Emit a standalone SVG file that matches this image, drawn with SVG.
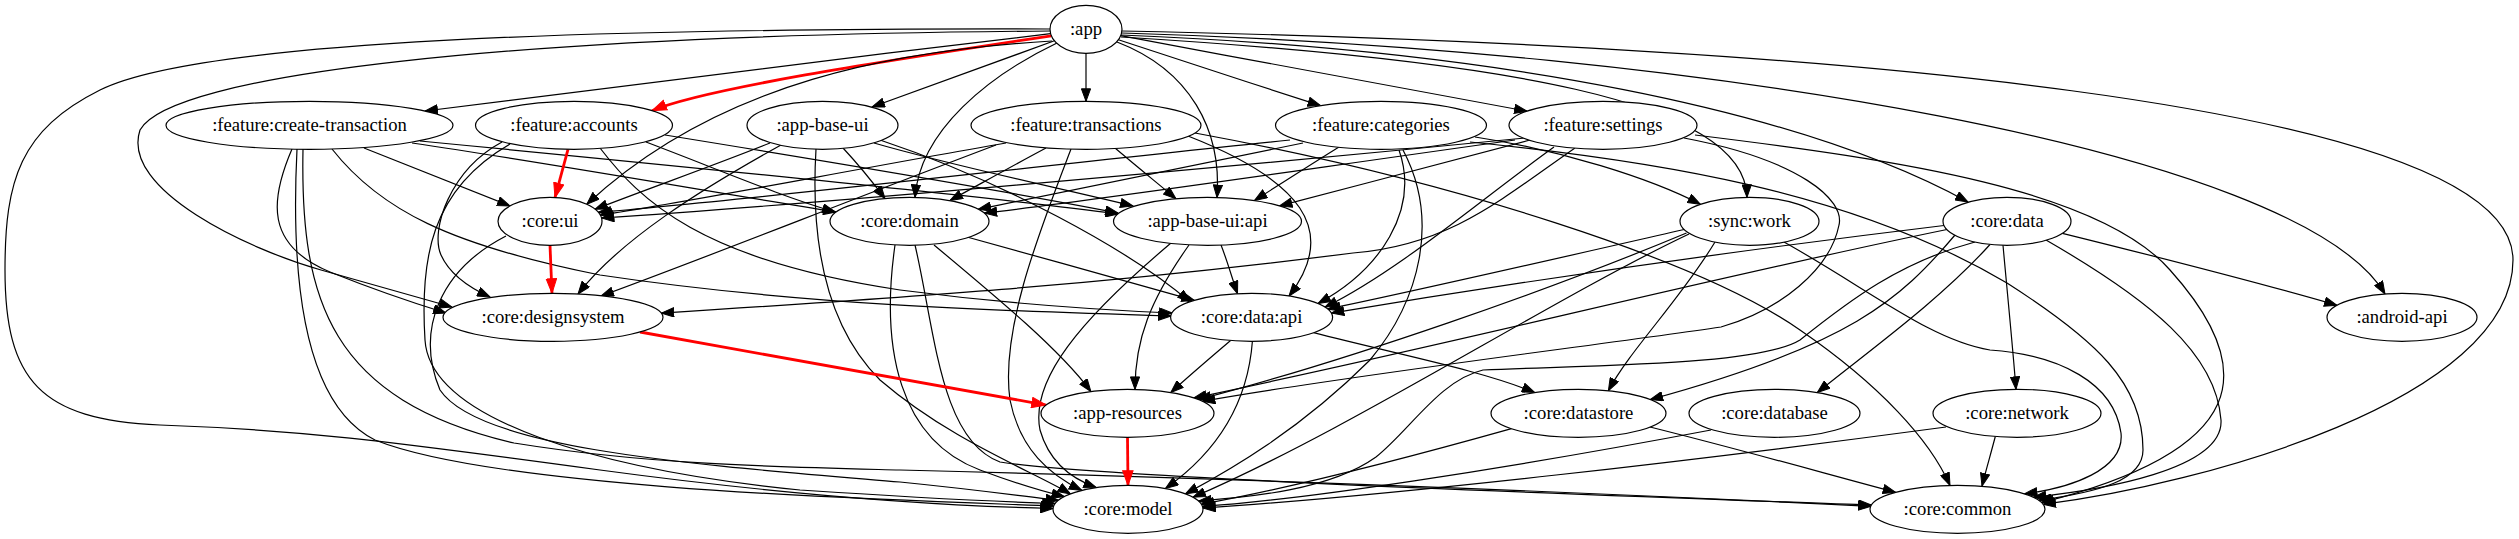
<svg xmlns="http://www.w3.org/2000/svg" width="2519" height="539" viewBox="0 0 2519 539">
<style>
.e{fill:none;stroke:#000;stroke-width:1.2;marker-end:url(#ah)}
.r{fill:none;stroke:#f00;stroke-width:2.8;marker-end:url(#ahr)}
.n ellipse{fill:#fff;stroke:#000;stroke-width:1.2}
.n text{font-family:"Liberation Serif","Times New Roman",serif;font-size:18.67px;text-anchor:middle;fill:#000}
</style>
<defs>
<marker id="ah" markerUnits="userSpaceOnUse" markerWidth="14" markerHeight="10" viewBox="0 0 14 10" refX="13" refY="5" orient="auto"><path d="M0.5,0.4 L13,5 L0.5,9.6 z" fill="#000" stroke="#000" stroke-width="1"/></marker>
<marker id="ahr" markerUnits="userSpaceOnUse" markerWidth="16" markerHeight="12" viewBox="0 0 16 12" refX="15" refY="6" orient="auto"><path d="M0.5,0.8 L15,6 L0.5,11.2 z" fill="#f00" stroke="#f00" stroke-width="1"/></marker>
</defs>
<rect width="2519" height="539" fill="#fff"/>
<g id="edges">
<path class="e" d="M1050.6,33.7 C842,58 634,84 425,111"/>
<path class="r" d="M1051.3,35.8 C877,62 703,89 652,110.7"/>
<path class="e" d="M1054.4,40.8 C994,63 933,85 872,107"/>
<path class="e" d="M1086,53.3 L1086,101.3"/>
<path class="e" d="M1118.4,39.8 C1186,62 1253,84 1320.5,105.6"/>
<path class="e" d="M1120.7,35.7 C1256,61 1391,86 1527,111.2"/>
<path class="e" d="M1052,41 C900,50 720,80 586.8,204.3"/>
<path class="e" d="M1057,43 C990,75 920,130 915,197.3"/>
<path class="e" d="M1117,42 C1190,70 1222,130 1217,197.5"/>
<path class="e" d="M1121,37 C1500,60 1745,100 1747,197.3"/>
<path class="e" d="M1121,35 C1500,50 1800,110 1968,202"/>
<path class="e" d="M1122,33 C1700,50 2300,150 2385,294"/>
<path class="e" d="M1122,31 C1800,45 2513,100 2513,260 C2513,400 2200,485 2043.1,504.3"/>
<path class="e" d="M1050,29 C600,28 200,40 100,90 C20,130 5,180 5,270 C5,380 40,420 160,425 C300,430 380,440 600,470 C800,497 950,506 1053,508.5"/>
<path class="e" d="M1050,31 C500,35 170,75 140,130 C120,190 250,250 321,270 C380,287 420,298 452,307"/>
<path class="e" d="M364,148 C410,166 460,186 510,206"/>
<path class="e" d="M412,143 C560,165 700,190 836,212"/>
<path class="e" d="M420,141 C700,168 1000,198 1118,214"/>
<path class="e" d="M332,149 C380,210 450,245 600,275 C800,305 1000,311 1171,316"/>
<path class="e" d="M292,149 C270,200 265,245 330,272 C380,292 420,305 446,313"/>
<path class="e" d="M297,149 C292,250 295,400 375,440 C500,490 900,500 1053.7,506"/>
<path class="e" d="M303,149 C300,300 330,400 514,443 C650,465 780,467 900,470 C1300,480 1700,498 1870.8,506.3"/>
<path class="r" d="M568,149.3 L555,197.5"/>
<path class="e" d="M646,142 C720,170 780,196 835,212"/>
<path class="e" d="M665,135 C850,165 1000,190 1118,213"/>
<path class="e" d="M600,148 C640,200 700,260 900,290 C1000,303 1100,310 1172,313"/>
<path class="e" d="M502,142 C450,170 430,230 441,255 C450,275 470,288 490,297"/>
<path class="e" d="M510,144 C430,190 420,260 425,340 C430,420 600,470 800,490 C950,500 1010,502 1055.2,503.5"/>
<path class="e" d="M770,143 C715,165 650,188 595,209.3"/>
<path class="e" d="M781,145 C700,190 620,240 578,294"/>
<path class="e" d="M843,148 C857,163 871,180 885,198.5"/>
<path class="e" d="M874,143 C950,165 1050,186 1133,206"/>
<path class="e" d="M880,140 C1000,180 1130,250 1190,302"/>
<path class="e" d="M816,149 C810,250 830,330 880,380 C950,440 1030,470 1070.5,493.9"/>
<path class="e" d="M1006,143 C850,170 700,200 600.2,215.1"/>
<path class="e" d="M996,145 C850,200 700,260 601,296"/>
<path class="e" d="M1046,148 C1014,165 982,183 950,200.5"/>
<path class="e" d="M1115,148 C1135,165 1156,182 1176,198.7"/>
<path class="e" d="M1188,136 C1300,180 1340,230 1289,296"/>
<path class="e" d="M1071,149 C1040,230 1000,330 1010,400 C1020,450 1050,475 1081.8,490.4"/>
<path class="e" d="M1195,133 C1450,180 1700,260 1800,330 C1880,385 1930,440 1950,485.4"/>
<path class="e" d="M1290,140 C1000,170 750,200 598.2,212.3"/>
<path class="e" d="M1303,143 C1180,168 1060,192 978.3,209.3"/>
<path class="e" d="M1339,147 C1310,165 1282,183 1254.5,200.5"/>
<path class="e" d="M1399,150 C1420,210 1380,270 1318,303.5"/>
<path class="e" d="M1403,150 C1440,220 1420,300 1370,360 C1300,430 1230,470 1185.5,493.9"/>
<path class="e" d="M1470,142 C1650,160 1850,190 2007,283 C2096,340 2143,383 2143,450 C2143,480 2100,492 2038.6,500.3"/>
<path class="e" d="M1475,137 C1560,150 1650,178 1700.4,204.3"/>
<path class="e" d="M1525,138 C1200,170 800,205 601.5,218"/>
<path class="e" d="M1515,140 C1300,170 1100,200 984.2,213.1"/>
<path class="e" d="M1530,140 C1447,162 1363,184 1279.5,205.9"/>
<path class="e" d="M1554,147 C1480,200 1400,270 1325,307.2"/>
<path class="e" d="M1575,148 C1500,200 1450,245 1353,253 C1100,285 900,298 661.3,313.1"/>
<path class="e" d="M1684,138 C1800,160 1845,200 1839,225 C1830,270 1780,310 1721,327 C1600,345 1350,375 1202.4,401.3"/>
<path class="e" d="M1695,135 C1900,160 2100,190 2170,270 C2260,370 2250,450 2041.6,502.7"/>
<path class="r" d="M550,245.3 L552,293.3"/>
<path class="e" d="M506,236 C440,270 415,330 440,390 C480,450 700,465 900,482 C980,490 1020,496 1058.5,500.3"/>
<path class="e" d="M967,237 C1043,258 1118,279 1194.3,300.3"/>
<path class="e" d="M934,245 C1000,300 1060,350 1090.9,391.5"/>
<path class="e" d="M895,245 C880,350 900,440 980,470 C1020,485 1045,492 1064.4,496.6"/>
<path class="e" d="M915,245 C935,330 940,440 1000,462 C1100,478 1600,495 1871.3,505.1"/>
<path class="e" d="M1221,245 C1227,260 1232,278 1237.5,293.7"/>
<path class="e" d="M1189,245 C1150,300 1135,340 1135,389.4"/>
<path class="e" d="M1171,243 C1080,320 1030,380 1040,430 C1050,465 1075,480 1096.3,487.5"/>
<path class="e" d="M1684.2,229.5 C1550,260 1420,290 1327.7,309.1"/>
<path class="e" d="M1686.5,233 C1550,290 1350,360 1198.4,399.5"/>
<path class="e" d="M1689,234 C1550,300 1350,430 1193,497.3"/>
<path class="e" d="M1715,242 C1680,300 1630,350 1608.4,390.7"/>
<path class="e" d="M1784,242 C1870,290 1930,340 1990,350 C2060,355 2114,383 2121,433 C2125,470 2070,488 2024.5,493.9"/>
<path class="e" d="M1944,225.5 C1700,255 1500,285 1331.4,313.1"/>
<path class="e" d="M1947,229.5 C1700,280 1450,345 1193.8,397.9"/>
<path class="e" d="M1955,235 C1900,300 1850,345 1650.2,399.5"/>
<path class="e" d="M1990,244.5 C1940,300 1870,350 1817.3,392.5"/>
<path class="e" d="M2003,245.3 C2008,300 2013,350 2016,389.3"/>
<path class="e" d="M2062.4,233.3 C2150,255 2250,280 2337,305.3"/>
<path class="e" d="M2046,240 C2150,300 2216,353 2221,420 C2224,470 2100,490 2033.3,497.3"/>
<path class="e" d="M1975,242 C1900,262 1850,300 1800,340 C1760,365 1600,365 1483,370 C1440,380 1410,430 1376,457 C1330,490 1250,497 1198.5,501.1"/>
<path class="r" d="M640,332 L1046.2,405.1"/>
<path class="e" d="M1230.6,340.5 C1210,358 1190,375 1170.8,392.5"/>
<path class="e" d="M1313.6,332.7 C1400,355 1480,370 1534.7,392.5"/>
<path class="e" d="M1252.4,341.3 C1248,400 1220,450 1165.5,488.5"/>
<path class="r" d="M1127.5,437.3 L1128,485.3"/>
<path class="e" d="M1511.5,428.7 C1400,460 1280,490 1201.4,504.3"/>
<path class="e" d="M1650,427 C1750,452 1830,475 1895.6,492.3"/>
<path class="e" d="M1711,430 C1500,470 1300,500 1202.4,506.4"/>
<path class="e" d="M1946,427 C1700,460 1400,495 1202.9,508"/>
<path class="e" d="M1995.3,436.5 C1991,453 1986,470 1982,486"/>
</g>
<g id="node-app" class="n"><ellipse cx="1086" cy="29.3" rx="36" ry="24"/><text x="1086" y="35.3">:app</text></g>
<g id="node-feature-create-transaction" class="n"><ellipse cx="309.5" cy="125.3" rx="143.5" ry="24"/><text x="309.5" y="131.3">:feature:create-transaction</text></g>
<g id="node-feature-accounts" class="n"><ellipse cx="574" cy="125.3" rx="98.5" ry="24"/><text x="574" y="131.3">:feature:accounts</text></g>
<g id="node-app-base-ui" class="n"><ellipse cx="822.5" cy="125.3" rx="75.5" ry="24"/><text x="822.5" y="131.3">:app-base-ui</text></g>
<g id="node-feature-transactions" class="n"><ellipse cx="1086" cy="125.3" rx="115" ry="24"/><text x="1086" y="131.3">:feature:transactions</text></g>
<g id="node-feature-categories" class="n"><ellipse cx="1381" cy="125.3" rx="105.5" ry="24"/><text x="1381" y="131.3">:feature:categories</text></g>
<g id="node-feature-settings" class="n"><ellipse cx="1603" cy="125.3" rx="94" ry="24"/><text x="1603" y="131.3">:feature:settings</text></g>
<g id="node-core-ui" class="n"><ellipse cx="550" cy="221.3" rx="52" ry="24"/><text x="550" y="227.3">:core:ui</text></g>
<g id="node-core-domain" class="n"><ellipse cx="909.5" cy="221.3" rx="79.5" ry="24"/><text x="909.5" y="227.3">:core:domain</text></g>
<g id="node-app-base-ui-api" class="n"><ellipse cx="1207.5" cy="221.3" rx="94" ry="24"/><text x="1207.5" y="227.3">:app-base-ui:api</text></g>
<g id="node-sync-work" class="n"><ellipse cx="1749.5" cy="221.3" rx="69.5" ry="24"/><text x="1749.5" y="227.3">:sync:work</text></g>
<g id="node-core-data" class="n"><ellipse cx="2007" cy="221.3" rx="64" ry="24"/><text x="2007" y="227.3">:core:data</text></g>
<g id="node-core-designsystem" class="n"><ellipse cx="553" cy="317.3" rx="110" ry="24"/><text x="553" y="323.3">:core:designsystem</text></g>
<g id="node-core-data-api" class="n"><ellipse cx="1251.6" cy="317.3" rx="81" ry="24"/><text x="1251.6" y="323.3">:core:data:api</text></g>
<g id="node-android-api" class="n"><ellipse cx="2402" cy="317.3" rx="75" ry="24"/><text x="2402" y="323.3">:android-api</text></g>
<g id="node-app-resources" class="n"><ellipse cx="1127.5" cy="413.3" rx="86.5" ry="24"/><text x="1127.5" y="419.3">:app-resources</text></g>
<g id="node-core-datastore" class="n"><ellipse cx="1578.5" cy="413.3" rx="87.5" ry="24"/><text x="1578.5" y="419.3">:core:datastore</text></g>
<g id="node-core-database" class="n"><ellipse cx="1774.5" cy="413.3" rx="85.5" ry="24"/><text x="1774.5" y="419.3">:core:database</text></g>
<g id="node-core-network" class="n"><ellipse cx="2017" cy="413.3" rx="84" ry="24"/><text x="2017" y="419.3">:core:network</text></g>
<g id="node-core-model" class="n"><ellipse cx="1128" cy="509.3" rx="75" ry="24"/><text x="1128" y="515.3">:core:model</text></g>
<g id="node-core-common" class="n"><ellipse cx="1957.5" cy="509.3" rx="87.5" ry="24"/><text x="1957.5" y="515.3">:core:common</text></g>
</svg>
